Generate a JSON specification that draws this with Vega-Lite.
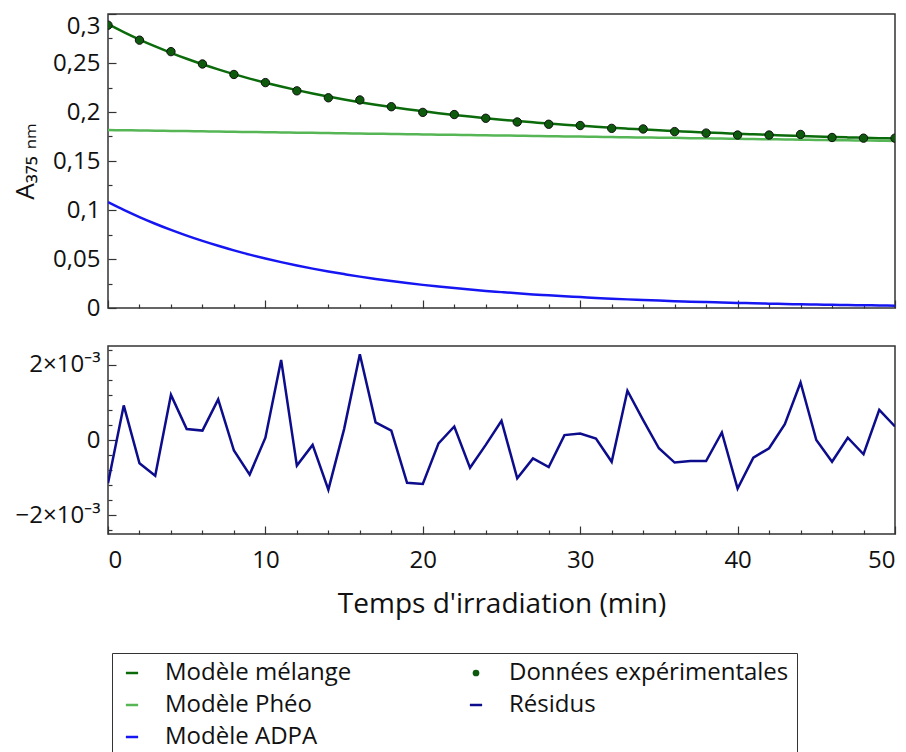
{
  "$schema": "https://vega.github.io/schema/vega-lite/v6.json",
  "autosize": {"type": "pad"},
  "padding": {"left": 11, "top": 12, "right": 5, "bottom": 0},
  "spacing": 38,
  "bounds": "flush",
  "config": {
    "font": "Open Sans",
    "view": {"stroke": "#333333", "strokeWidth": 1.5},
    "axis": {"grid": false, "domain": false, "tickColor": "#333333", "tickWidth": 1.2, "labelColor": "#111111", "titleColor": "#111111", "labelFontSize": 24, "titleFontWeight": "normal", "labelFont": "Open Sans", "titleFont": "Open Sans"}
  },
  "resolve": {"scale": {"color": "shared"}},
  "datasets": {
    "models": [
      {"t":0,"serie":"Modèle mélange","A":0.2896},{"t":1,"serie":"Modèle mélange","A":0.2815},{"t":2,"serie":"Modèle mélange","A":0.2739},{"t":3,"serie":"Modèle mélange","A":0.2669},{"t":4,"serie":"Modèle mélange","A":0.2604},{"t":5,"serie":"Modèle mélange","A":0.2543},{"t":6,"serie":"Modèle mélange","A":0.2487},{"t":7,"serie":"Modèle mélange","A":0.2435},{"t":8,"serie":"Modèle mélange","A":0.2386},{"t":9,"serie":"Modèle mélange","A":0.2341},{"t":10,"serie":"Modèle mélange","A":0.2299},{"t":11,"serie":"Modèle mélange","A":0.2260},{"t":12,"serie":"Modèle mélange","A":0.2223},{"t":13,"serie":"Modèle mélange","A":0.2189},{"t":14,"serie":"Modèle mélange","A":0.2158},{"t":15,"serie":"Modèle mélange","A":0.2128},{"t":16,"serie":"Modèle mélange","A":0.2100},{"t":17,"serie":"Modèle mélange","A":0.2075},{"t":18,"serie":"Modèle mélange","A":0.2051},{"t":19,"serie":"Modèle mélange","A":0.2028},{"t":20,"serie":"Modèle mélange","A":0.2008},{"t":21,"serie":"Modèle mélange","A":0.1988},{"t":22,"serie":"Modèle mélange","A":0.1970},{"t":23,"serie":"Modèle mélange","A":0.1953},{"t":24,"serie":"Modèle mélange","A":0.1937},{"t":25,"serie":"Modèle mélange","A":0.1922},{"t":26,"serie":"Modèle mélange","A":0.1908},{"t":27,"serie":"Modèle mélange","A":0.1895},{"t":28,"serie":"Modèle mélange","A":0.1882},{"t":29,"serie":"Modèle mélange","A":0.1871},{"t":30,"serie":"Modèle mélange","A":0.1860},{"t":31,"serie":"Modèle mélange","A":0.1849},{"t":32,"serie":"Modèle mélange","A":0.1839},{"t":33,"serie":"Modèle mélange","A":0.1830},{"t":34,"serie":"Modèle mélange","A":0.1822},{"t":35,"serie":"Modèle mélange","A":0.1813},{"t":36,"serie":"Modèle mélange","A":0.1806},{"t":37,"serie":"Modèle mélange","A":0.1798},{"t":38,"serie":"Modèle mélange","A":0.1791},{"t":39,"serie":"Modèle mélange","A":0.1785},{"t":40,"serie":"Modèle mélange","A":0.1778},{"t":41,"serie":"Modèle mélange","A":0.1772},{"t":42,"serie":"Modèle mélange","A":0.1767},{"t":43,"serie":"Modèle mélange","A":0.1761},{"t":44,"serie":"Modèle mélange","A":0.1756},{"t":45,"serie":"Modèle mélange","A":0.1751},{"t":46,"serie":"Modèle mélange","A":0.1746},{"t":47,"serie":"Modèle mélange","A":0.1741},{"t":48,"serie":"Modèle mélange","A":0.1737},{"t":49,"serie":"Modèle mélange","A":0.1733},{"t":50,"serie":"Modèle mélange","A":0.1729},
      {"t":0,"serie":"Modèle Phéo","A":0.1816},{"t":1,"serie":"Modèle Phéo","A":0.1814},{"t":2,"serie":"Modèle Phéo","A":0.1812},{"t":3,"serie":"Modèle Phéo","A":0.1809},{"t":4,"serie":"Modèle Phéo","A":0.1807},{"t":5,"serie":"Modèle Phéo","A":0.1805},{"t":6,"serie":"Modèle Phéo","A":0.1803},{"t":7,"serie":"Modèle Phéo","A":0.1800},{"t":8,"serie":"Modèle Phéo","A":0.1798},{"t":9,"serie":"Modèle Phéo","A":0.1796},{"t":10,"serie":"Modèle Phéo","A":0.1794},{"t":11,"serie":"Modèle Phéo","A":0.1791},{"t":12,"serie":"Modèle Phéo","A":0.1789},{"t":13,"serie":"Modèle Phéo","A":0.1787},{"t":14,"serie":"Modèle Phéo","A":0.1785},{"t":15,"serie":"Modèle Phéo","A":0.1783},{"t":16,"serie":"Modèle Phéo","A":0.1780},{"t":17,"serie":"Modèle Phéo","A":0.1778},{"t":18,"serie":"Modèle Phéo","A":0.1776},{"t":19,"serie":"Modèle Phéo","A":0.1774},{"t":20,"serie":"Modèle Phéo","A":0.1771},{"t":21,"serie":"Modèle Phéo","A":0.1769},{"t":22,"serie":"Modèle Phéo","A":0.1767},{"t":23,"serie":"Modèle Phéo","A":0.1765},{"t":24,"serie":"Modèle Phéo","A":0.1762},{"t":25,"serie":"Modèle Phéo","A":0.1760},{"t":26,"serie":"Modèle Phéo","A":0.1758},{"t":27,"serie":"Modèle Phéo","A":0.1756},{"t":28,"serie":"Modèle Phéo","A":0.1753},{"t":29,"serie":"Modèle Phéo","A":0.1751},{"t":30,"serie":"Modèle Phéo","A":0.1749},{"t":31,"serie":"Modèle Phéo","A":0.1747},{"t":32,"serie":"Modèle Phéo","A":0.1745},{"t":33,"serie":"Modèle Phéo","A":0.1742},{"t":34,"serie":"Modèle Phéo","A":0.1740},{"t":35,"serie":"Modèle Phéo","A":0.1738},{"t":36,"serie":"Modèle Phéo","A":0.1736},{"t":37,"serie":"Modèle Phéo","A":0.1733},{"t":38,"serie":"Modèle Phéo","A":0.1731},{"t":39,"serie":"Modèle Phéo","A":0.1729},{"t":40,"serie":"Modèle Phéo","A":0.1727},{"t":41,"serie":"Modèle Phéo","A":0.1724},{"t":42,"serie":"Modèle Phéo","A":0.1722},{"t":43,"serie":"Modèle Phéo","A":0.1720},{"t":44,"serie":"Modèle Phéo","A":0.1718},{"t":45,"serie":"Modèle Phéo","A":0.1715},{"t":46,"serie":"Modèle Phéo","A":0.1713},{"t":47,"serie":"Modèle Phéo","A":0.1711},{"t":48,"serie":"Modèle Phéo","A":0.1709},{"t":49,"serie":"Modèle Phéo","A":0.1707},{"t":50,"serie":"Modèle Phéo","A":0.1704},
      {"t":0,"serie":"Modèle ADPA","A":0.1080},{"t":1,"serie":"Modèle ADPA","A":0.1001},{"t":2,"serie":"Modèle ADPA","A":0.0928},{"t":3,"serie":"Modèle ADPA","A":0.0860},{"t":4,"serie":"Modèle ADPA","A":0.0797},{"t":5,"serie":"Modèle ADPA","A":0.0739},{"t":6,"serie":"Modèle ADPA","A":0.0685},{"t":7,"serie":"Modèle ADPA","A":0.0635},{"t":8,"serie":"Modèle ADPA","A":0.0588},{"t":9,"serie":"Modèle ADPA","A":0.0545},{"t":10,"serie":"Modèle ADPA","A":0.0505},{"t":11,"serie":"Modèle ADPA","A":0.0468},{"t":12,"serie":"Modèle ADPA","A":0.0434},{"t":13,"serie":"Modèle ADPA","A":0.0402},{"t":14,"serie":"Modèle ADPA","A":0.0373},{"t":15,"serie":"Modèle ADPA","A":0.0346},{"t":16,"serie":"Modèle ADPA","A":0.0320},{"t":17,"serie":"Modèle ADPA","A":0.0297},{"t":18,"serie":"Modèle ADPA","A":0.0275},{"t":19,"serie":"Modèle ADPA","A":0.0255},{"t":20,"serie":"Modèle ADPA","A":0.0236},{"t":21,"serie":"Modèle ADPA","A":0.0219},{"t":22,"serie":"Modèle ADPA","A":0.0203},{"t":23,"serie":"Modèle ADPA","A":0.0188},{"t":24,"serie":"Modèle ADPA","A":0.0174},{"t":25,"serie":"Modèle ADPA","A":0.0162},{"t":26,"serie":"Modèle ADPA","A":0.0150},{"t":27,"serie":"Modèle ADPA","A":0.0139},{"t":28,"serie":"Modèle ADPA","A":0.0129},{"t":29,"serie":"Modèle ADPA","A":0.0119},{"t":30,"serie":"Modèle ADPA","A":0.0111},{"t":31,"serie":"Modèle ADPA","A":0.0102},{"t":32,"serie":"Modèle ADPA","A":0.0095},{"t":33,"serie":"Modèle ADPA","A":0.0088},{"t":34,"serie":"Modèle ADPA","A":0.0082},{"t":35,"serie":"Modèle ADPA","A":0.0076},{"t":36,"serie":"Modèle ADPA","A":0.0070},{"t":37,"serie":"Modèle ADPA","A":0.0065},{"t":38,"serie":"Modèle ADPA","A":0.0060},{"t":39,"serie":"Modèle ADPA","A":0.0056},{"t":40,"serie":"Modèle ADPA","A":0.0052},{"t":41,"serie":"Modèle ADPA","A":0.0048},{"t":42,"serie":"Modèle ADPA","A":0.0044},{"t":43,"serie":"Modèle ADPA","A":0.0041},{"t":44,"serie":"Modèle ADPA","A":0.0038},{"t":45,"serie":"Modèle ADPA","A":0.0035},{"t":46,"serie":"Modèle ADPA","A":0.0033},{"t":47,"serie":"Modèle ADPA","A":0.0030},{"t":48,"serie":"Modèle ADPA","A":0.0028},{"t":49,"serie":"Modèle ADPA","A":0.0026},{"t":50,"serie":"Modèle ADPA","A":0.0024}
    ],
    "points": [
      {"t":0,"serie":"Données expérimentales","A":0.2886},{"t":2,"serie":"Données expérimentales","A":0.2733},{"t":4,"serie":"Données expérimentales","A":0.2616},{"t":6,"serie":"Données expérimentales","A":0.2490},{"t":8,"serie":"Données expérimentales","A":0.2383},{"t":10,"serie":"Données expérimentales","A":0.2300},{"t":12,"serie":"Données expérimentales","A":0.2216},{"t":14,"serie":"Données expérimentales","A":0.2145},{"t":16,"serie":"Données expérimentales","A":0.2123},{"t":18,"serie":"Données expérimentales","A":0.2054},{"t":20,"serie":"Données expérimentales","A":0.1996},{"t":22,"serie":"Données expérimentales","A":0.1974},{"t":24,"serie":"Données expérimentales","A":0.1936},{"t":26,"serie":"Données expérimentales","A":0.1898},{"t":28,"serie":"Données expérimentales","A":0.1875},{"t":30,"serie":"Données expérimentales","A":0.1862},{"t":32,"serie":"Données expérimentales","A":0.1833},{"t":34,"serie":"Données expérimentales","A":0.1827},{"t":36,"serie":"Données expérimentales","A":0.1800},{"t":38,"serie":"Données expérimentales","A":0.1785},{"t":40,"serie":"Données expérimentales","A":0.1765},{"t":42,"serie":"Données expérimentales","A":0.1765},{"t":44,"serie":"Données expérimentales","A":0.1771},{"t":46,"serie":"Données expérimentales","A":0.1740},{"t":48,"serie":"Données expérimentales","A":0.1733},{"t":50,"serie":"Données expérimentales","A":0.1733}
    ],
    "residus": [
      {"t":0,"serie":"Résidus","r":-0.00115},{"t":1,"serie":"Résidus","r":0.00092},{"t":2,"serie":"Résidus","r":-0.00062},{"t":3,"serie":"Résidus","r":-0.00095},{"t":4,"serie":"Résidus","r":0.00120},{"t":5,"serie":"Résidus","r":0.00029},{"t":6,"serie":"Résidus","r":0.00025},{"t":7,"serie":"Résidus","r":0.00108},{"t":8,"serie":"Résidus","r":-0.00028},{"t":9,"serie":"Résidus","r":-0.00092},{"t":10,"serie":"Résidus","r":0.00006},{"t":11,"serie":"Résidus","r":0.00213},{"t":12,"serie":"Résidus","r":-0.00068},{"t":13,"serie":"Résidus","r":-0.00013},{"t":14,"serie":"Résidus","r":-0.00132},{"t":15,"serie":"Résidus","r":0.00029},{"t":16,"serie":"Résidus","r":0.00228},{"t":17,"serie":"Résidus","r":0.00047},{"t":18,"serie":"Résidus","r":0.00025},{"t":19,"serie":"Résidus","r":-0.00114},{"t":20,"serie":"Résidus","r":-0.00117},{"t":21,"serie":"Résidus","r":-0.00009},{"t":22,"serie":"Résidus","r":0.00036},{"t":23,"serie":"Résidus","r":-0.00074},{"t":24,"serie":"Résidus","r":-0.00013},{"t":25,"serie":"Résidus","r":0.00051},{"t":26,"serie":"Résidus","r":-0.00102},{"t":27,"serie":"Résidus","r":-0.00049},{"t":28,"serie":"Résidus","r":-0.00072},{"t":29,"serie":"Résidus","r":0.00013},{"t":30,"serie":"Résidus","r":0.00017},{"t":31,"serie":"Résidus","r":0.00004},{"t":32,"serie":"Résidus","r":-0.00058},{"t":33,"serie":"Résidus","r":0.00131},{"t":34,"serie":"Résidus","r":0.00053},{"t":35,"serie":"Résidus","r":-0.00022},{"t":36,"serie":"Résidus","r":-0.00060},{"t":37,"serie":"Résidus","r":-0.00056},{"t":38,"serie":"Résidus","r":-0.00056},{"t":39,"serie":"Résidus","r":0.00020},{"t":40,"serie":"Résidus","r":-0.00129},{"t":41,"serie":"Résidus","r":-0.00047},{"t":42,"serie":"Résidus","r":-0.00022},{"t":43,"serie":"Résidus","r":0.00042},{"t":44,"serie":"Résidus","r":0.00153},{"t":45,"serie":"Résidus","r":0.00000},{"t":46,"serie":"Résidus","r":-0.00058},{"t":47,"serie":"Résidus","r":0.00006},{"t":48,"serie":"Résidus","r":-0.00038},{"t":49,"serie":"Résidus","r":0.00080},{"t":50,"serie":"Résidus","r":0.00036}
    ]
  },
  "vconcat": [
    {
      "width": 787,
      "height": 294,
      "resolve": {"axis": {"x": "independent", "y": "independent"}},
      "layer": [
        {
          "data": {"name": "models"},
          "mark": {"type": "line", "strokeWidth": 2.5, "interpolate": "monotone", "clip": true},
          "encoding": {
            "x": {"field": "t", "type": "quantitative", "scale": {"domain": [0, 50], "nice": false, "zero": false},
                  "axis": {"orient": "bottom", "values": [0,10,20,30,40,50], "labels": false, "tickSize": -8, "title": null}},
            "y": {"field": "A", "type": "quantitative", "scale": {"domain": [0, 0.3], "nice": false},
                  "axis": {"orient": "left", "values": [0,0.05,0.1,0.15,0.2,0.25,0.3], "tickSize": -8, "labelPadding": 16,
                           "labelExpr": "replace(format(datum.value, '~g'), '.', ',')",
                           "labelBaseline": {"condition": {"test": "datum.value > 0.29", "value": "top"}, "value": "middle"},
                           "title": "A₃₇₅ ₙₘ", "titleFontSize": 26, "titleX": -70}},
            "color": {"field": "serie", "type": "nominal",
                      "scale": {"domain": ["Modèle mélange","Modèle Phéo","Modèle ADPA","Données expérimentales","Résidus"],
                                "range": ["#0b6b0b","#56b656","#1616f2","#0d5a0d","#0c0c8c"]},
                      "legend": {"orient": "none", "legendX": 4, "legendY": 639, "columns": 2, "title": null,
                                 "strokeColor": "#333333", "fillColor": "white", "padding": 8,
                                 "labelFontSize": 24, "labelFont": "Open Sans", "labelColor": "#111111", "labelLimit": 500,
                                 "labelOffset": 21, "rowPadding": 8, "columnPadding": 112, "symbolType": "stroke",
                                 "symbolStrokeWidth": 2.5, "symbolSize": 150,
                                 "encode": {"symbols": {"update": {
                                   "shape": {"signal": "datum.value === 'Données expérimentales' ? 'circle' : 'stroke'"},
                                   "size": {"signal": "datum.value === 'Données expérimentales' ? 45 : 150"},
                                   "fill": {"signal": "datum.value === 'Données expérimentales' ? '#0d5a0d' : 'transparent'"},
                                   "stroke": {"signal": "datum.value === 'Données expérimentales' ? '#0d5a0d' : datum.value === 'Modèle mélange' ? '#0b6b0b' : datum.value === 'Modèle Phéo' ? '#56b656' : datum.value === 'Résidus' ? '#0c0c8c' : '#1616f2'"},
                                   "strokeWidth": {"signal": "datum.value === 'Données expérimentales' ? 0 : 2.5"}
                                 }}}}}
          }
        },
        {
          "data": {"name": "points"},
          "mark": {"type": "point", "filled": true, "size": 70, "stroke": "#111111", "strokeWidth": 1, "opacity": 1, "clip": true},
          "encoding": {
            "x": {"field": "t", "type": "quantitative",
                  "axis": {"orient": "bottom", "values": [2,4,6,8,12,14,16,18,22,24,26,28,32,34,36,38,42,44,46,48], "labels": false, "tickSize": -4, "title": null}},
            "y": {"field": "A", "type": "quantitative",
                  "axis": {"orient": "left", "values": [0.025,0.075,0.125,0.175,0.225,0.275], "labels": false, "tickSize": -4, "title": null}},
            "color": {"field": "serie", "type": "nominal", "legend": null}
          }
        }
      ]
    },
    {
      "width": 787,
      "height": 188,
      "resolve": {"axis": {"x": "independent", "y": "independent"}},
      "layer": [
        {
          "data": {"name": "residus"},
          "mark": {"type": "line", "strokeWidth": 2.5, "clip": true},
          "encoding": {
            "x": {"field": "t", "type": "quantitative", "scale": {"domain": [0, 50], "nice": false, "zero": false},
                  "axis": {"orient": "bottom", "values": [0,10,20,30,40,50], "tickSize": -8, "labelPadding": 22,
                           "title": "Temps d'irradiation (min)", "titleFontSize": 28, "titlePadding": 18}},
            "y": {"field": "r", "type": "quantitative", "scale": {"domain": [-0.0025, 0.0025], "nice": false},
                  "axis": {"orient": "left", "values": [-0.002, 0, 0.002], "tickSize": -8, "labelPadding": 16,
                           "labelExpr": "datum.value > 0.001 ? '2×10⁻³' : (datum.value < -0.001 ? '−2×10⁻³' : '0')",
                           "title": null}},
            "color": {"field": "serie", "type": "nominal", "legend": null}
          }
        },
        {
          "data": {"name": "residus"},
          "mark": {"type": "point", "opacity": 0},
          "encoding": {
            "x": {"field": "t", "type": "quantitative",
                  "axis": {"orient": "bottom", "values": [2,4,6,8,12,14,16,18,22,24,26,28,32,34,36,38,42,44,46,48], "labels": false, "tickSize": -4, "title": null}},
            "y": {"field": "r", "type": "quantitative",
                  "axis": {"orient": "left", "values": [-0.0024,-0.0016,-0.0012,-0.0008,-0.0004,0.0004,0.0008,0.0012,0.0016,0.0024], "labels": false, "tickSize": -4, "title": null}}
          }
        }
      ]
    }
  ]
}
